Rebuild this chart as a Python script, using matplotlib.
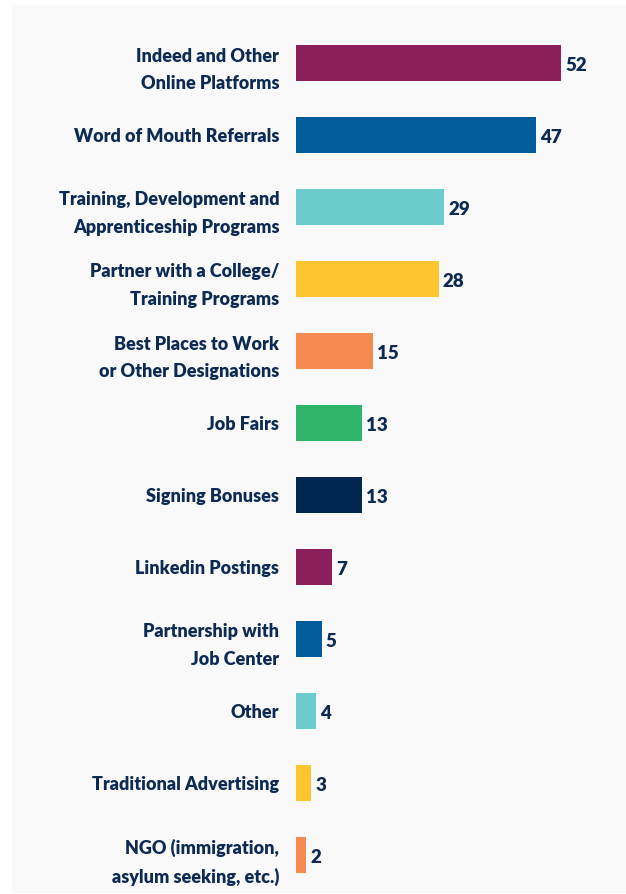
import numpy as np
import matplotlib

matplotlib.use("Agg")
import matplotlib.pyplot as plt
from matplotlib.patches import Rectangle

categories = [
    "Indeed and Other\nOnline Platforms",
    "Word of Mouth Referrals",
    "Training, Development and\nApprenticeship Programs",
    "Partner with a College/\nTraining Programs",
    "Best Places to Work\nor Other Designations",
    "Job Fairs",
    "Signing Bonuses",
    "Linkedin Postings",
    "Partnership with\nJob Center",
    "Other",
    "Traditional Advertising",
    "NGO (immigration,\nasylum seeking, etc.)",
]
values = [52, 47, 29, 28, 15, 13, 13, 7, 5, 4, 3, 2]
bar_colors = [
    "#8a1f5c", "#005b9a", "#6ccbcb", "#ffc52f", "#f58b50", "#2eb56b",
    "#00274f", "#8a1f5c", "#005b9a", "#6ccbcb", "#ffc52f", "#f58b50",
]

TEXT = "#0c2a52"
W, H = 626, 894

plt.rcParams["font.family"] = ["Lato", "DejaVu Sans"]

fig = plt.figure(figsize=(W / 100, H / 100), dpi=100)
fig.patch.set_facecolor("white")
fig.patches.append(
    Rectangle((12 / W, 1 / H), 1 - 12 / W, 1 - 6 / H, transform=fig.transFigure,
              facecolor="#f9f9f9", edgecolor="none", zorder=-10)
)

ax = fig.add_axes([296 / W, 1 / H, 1 - 296 / W, 1 - 6 / H])
ax.set_zorder(5)
ax.patch.set_alpha(0)

y = np.arange(len(values))
ax.barh(y, values, height=0.5, color=bar_colors)

for yi, v in zip(y, values):
    ax.annotate(str(v), (v, yi), xytext=(3, -1.5), textcoords="offset points",
                ha="left", va="center", fontsize=13.5, fontweight="heavy", color=TEXT)

ax.set_yticks(y)
ax.set_yticklabels(categories, fontsize=13, fontweight="heavy", color=TEXT,
                   linespacing=1.75)
ax.tick_params(axis="y", length=0, pad=12)
ax.set_xticks([])
ax.set_xlim(0, 330 / 5.1)
ax.set_ylim((H - 1 - 63) / 72, (5 - 63) / 72)
for s in ax.spines.values():
    s.set_visible(False)

fig.savefig("out.png", dpi=100)
